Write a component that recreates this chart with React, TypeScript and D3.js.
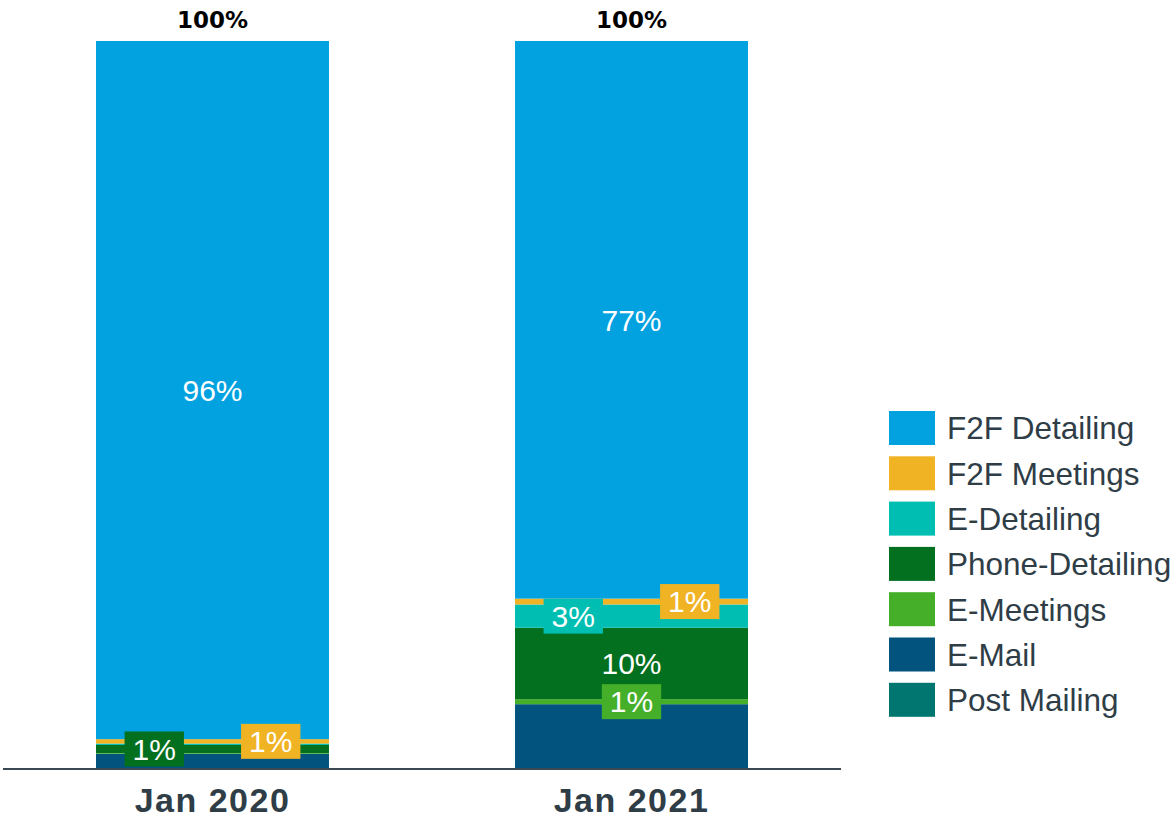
import * as d3 from 'd3';
import React, { useRef, useEffect } from 'react';

const categories = ['Jan 2020', 'Jan 2021'];
// stacked bottom -> top
const seriesKeys = ['Post Mailing', 'E-Mail', 'E-Meetings', 'Phone-Detailing', 'E-Detailing', 'F2F Meetings', 'F2F Detailing'];
const legendKeys = ['F2F Detailing', 'F2F Meetings', 'E-Detailing', 'Phone-Detailing', 'E-Meetings', 'E-Mail', 'Post Mailing'];

const f2fDetailing = [95.9, 76.6];
const f2fMeetings = [0.6, 0.8];
const eDetailing = [0.2, 3.2];
const phoneDetailing = [1.1, 9.8];
const eMeetings = [0.1, 0.7];
const eMail = [2.1, 8.9];
const postMailing = [0, 0];
const totals = ['100%', '100%'];

const colors = {
    'F2F Detailing': '#02a2e0',
    'F2F Meetings': '#f0b324',
    'E-Detailing': '#00bfb2',
    'Phone-Detailing': '#03701f',
    'E-Meetings': '#45af2a',
    'E-Mail': '#02547f',
    'Post Mailing': '#017570'
};

// which segments carry a label, and where (-1 left, 0 center, 1 right)
const labelPlacement = {
    'Jan 2020': { 'F2F Detailing': 0, 'F2F Meetings': 1, 'Phone-Detailing': -1 },
    'Jan 2021': { 'F2F Detailing': 0, 'F2F Meetings': 1, 'E-Detailing': -1, 'Phone-Detailing': 0, 'E-Meetings': 0 }
};

function App() {
    const ref = useRef(null);
    const width = 1176, height = 818;

    useEffect(() => {
        const svg = d3.select(ref.current);
        svg.selectAll('*').remove();

        const table = categories.map((c, i) => ({
            category: c,
            'F2F Detailing': f2fDetailing[i],
            'F2F Meetings': f2fMeetings[i],
            'E-Detailing': eDetailing[i],
            'Phone-Detailing': phoneDetailing[i],
            'E-Meetings': eMeetings[i],
            'E-Mail': eMail[i],
            'Post Mailing': postMailing[i]
        }));

        const x = d3.scaleBand().domain(categories).range([4, 840]).paddingInner(0.444).paddingOuter(0.2196);
        const y = d3.scaleLinear().domain([0, 100]).range([769, 41]);

        const stacked = d3.stack().keys(seriesKeys)(table);

        const layers = svg.append('g').selectAll('g')
            .data(stacked)
            .enter().append('g')
            .attr('fill', d => colors[d.key]);

        layers.selectAll('rect')
            .data(d => d)
            .enter().append('rect')
            .attr('x', d => x(d.data.category))
            .attr('y', d => y(d[1]))
            .attr('width', x.bandwidth())
            .attr('height', d => y(d[0]) - y(d[1]));

        // axis line
        svg.append('line')
            .attr('x1', 3).attr('x2', 841)
            .attr('y1', 769).attr('y2', 769)
            .attr('stroke', '#3a4853').attr('stroke-width', 2);

        // segment labels
        const labels = svg.append('g').style('font-family', "'Liberation Sans', Arial, sans-serif");
        stacked.forEach(layer => {
            layer.forEach(d => {
                const cat = d.data.category;
                const place = labelPlacement[cat][layer.key];
                if (place === undefined) return;
                const cx = x(cat) + x.bandwidth() / 2 + place * x.bandwidth() / 4;
                const cy = (y(d[0]) + y(d[1])) / 2;
                const segH = y(d[0]) - y(d[1]);
                const txt = Math.round(d[1] - d[0]) + '%';
                const g = labels.append('g');
                const t = g.append('text')
                    .attr('x', cx).attr('y', cy)
                    .attr('text-anchor', 'middle')
                    .attr('dy', '0.36em')
                    .attr('fill', '#fff')
                    .style('font-size', '30px')
                    .text(txt);
                if (segH < 36) {
                    const w = t.node().getComputedTextLength() + 16;
                    g.insert('rect', 'text')
                        .attr('x', cx - w / 2).attr('y', cy - 17.5)
                        .attr('width', w).attr('height', 35)
                        .attr('fill', colors[layer.key]);
                }
            });
        });

        // totals on top
        svg.append('g').selectAll('text')
            .data(categories)
            .enter().append('text')
            .attr('x', d => x(d) + x.bandwidth() / 2)
            .attr('y', 28)
            .attr('text-anchor', 'middle')
            .style('font-family', "'DejaVu Sans', sans-serif")
            .style('font-weight', 'bold')
            .style('font-size', '23px')
            .attr('fill', '#000')
            .text((d, i) => totals[i]);

        // category labels
        svg.append('g').selectAll('text')
            .data(categories)
            .enter().append('text')
            .attr('x', d => x(d) + x.bandwidth() / 2)
            .attr('y', 812)
            .attr('text-anchor', 'middle')
            .style('font-family', "'Liberation Sans', Arial, sans-serif")
            .style('font-weight', 'bold')
            .style('font-size', '34px')
            .style('letter-spacing', '1.5px')
            .attr('fill', '#2f3d47')
            .text(d => d);

        // legend
        const legend = svg.append('g').selectAll('g')
            .data(legendKeys)
            .enter().append('g')
            .attr('transform', (d, i) => `translate(889,${411 + i * 45.3})`);
        legend.append('rect')
            .attr('width', 46).attr('height', 34)
            .attr('fill', d => colors[d]);
        legend.append('text')
            .attr('x', 58).attr('y', 17)
            .attr('dy', '0.36em')
            .style('font-family', "'Liberation Sans', Arial, sans-serif")
            .style('font-size', '31.5px')
            .attr('fill', '#2f3d47')
            .text(d => d);
    }, []);

    return (
        <svg ref={ref} width={width} height={height}
            style={{ position: 'absolute', left: 0, top: 0, background: '#fff' }}></svg>
    );
}

export default App;
